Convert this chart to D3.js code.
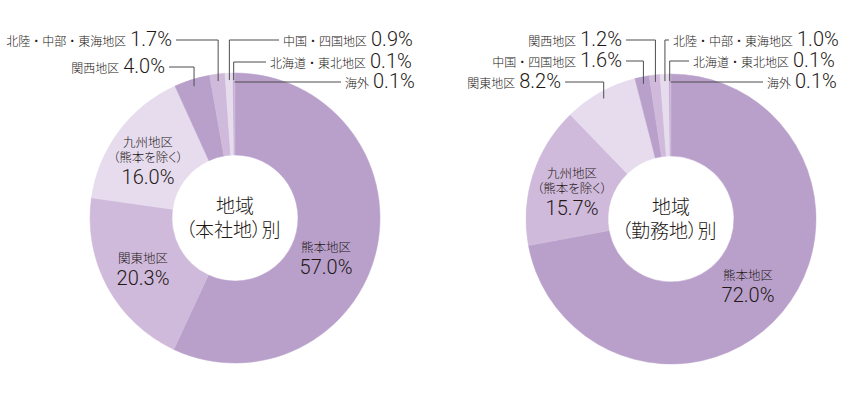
<!DOCTYPE html>
<html>
<head>
<meta charset="utf-8">
<script src="https://cdn.jsdelivr.net/npm/d3@7"></script>
<style>
  html, body { margin: 0; padding: 0; background: #fff; }
  #chart { width: 845px; height: 397px; }
  text { fill: #231815; }
  .jp { font-family: "Noto Sans CJK JP", sans-serif; font-weight: 300; }
  .palt { font-feature-settings: "palt"; }
  .num { font-family: Roboto, "Liberation Sans", sans-serif; font-weight: 300; }
</style>
</head>
<body>
<div id="chart"></div>
<script>
//Datos
const HQ_NAMES = ['熊本地区', '関東地区', '九州地区', '関西地区', '北陸・中部・東海地区', '中国・四国地区', '北海道・東北地区', '海外'];
const HQ_VALUES = [57.0, 20.3, 16.0, 4.0, 1.7, 0.9, 0.1, 0.1];

const WORK_NAMES = ['熊本地区', '九州地区', '関東地区', '中国・四国地区', '関西地区', '北陸・中部・東海地区', '北海道・東北地区', '海外'];
const WORK_VALUES = [72.0, 15.7, 8.2, 1.6, 1.2, 1.0, 0.1, 0.1];

const HQ_TITLE = ['地域', '（本社地）別'];
const WORK_TITLE = ['地域', '（勤務地）別'];

//Colores fijos
const COLOR_DARK = '#b9a0cb',
COLOR_MID = '#d0badb',
COLOR_LIGHT = '#e6dcee',
COLOR_LINE = '#4d4d4d';

//Layout de etiquetas (inside: dx/dy desde el centro; outside: fila y lado)
const HQ_LAYOUT = [
    {type: 'in', dx: 91, dy: 34},
    {type: 'in', dx: -92, dy: 45},
    {type: 'in', dx: -87, dy: -71, sub: '（熊本を除く）'},
    {type: 'out', side: 'left', y: 67, tx: 165},
    {type: 'out', side: 'left', y: 40, tx: 172},
    {type: 'out', side: 'right', y: 40, tx: 283},
    {type: 'out', side: 'right', y: 62, tx: 270},
    {type: 'out', side: 'right', y: 82, tx: 345}
];
const WORK_LAYOUT = [
    {type: 'in', dx: 77, dy: 61},
    {type: 'in', dx: -99, dy: -41, sub: '（熊本を除く）'},
    {type: 'out', side: 'left', y: 82, tx: 561},
    {type: 'out', side: 'left', y: 61, tx: 622},
    {type: 'out', side: 'left', y: 40, tx: 622},
    {type: 'out', side: 'right', y: 40, tx: 673},
    {type: 'out', side: 'right', y: 61, tx: 693},
    {type: 'out', side: 'right', y: 82, tx: 767}
];

let svg = d3.select('#chart')
    .append('svg')
    .attr('width', 845)
    .attr('height', 397);

let color = d3.scaleOrdinal()
    .domain(d3.range(8))
    .range([COLOR_DARK, COLOR_MID, COLOR_LIGHT]);

let outerR = 145, innerR = 63;

function drawDonut(cx, cy, names, values, title, layout) {
    let data = names.map(function(n, i) { return {name: n, value: values[i], i: i}; });

    let pie = d3.pie()
        .sort(null)
        .value(function(d) { return d.value; });

    let arc = d3.arc()
        .innerRadius(innerR)
        .outerRadius(outerR);

    let g = svg.append('g')
        .attr('transform', 'translate(' + cx + ',' + cy + ')');

    let arcs = pie(data);

    g.selectAll('path.slice')
        .data(arcs)
        .enter()
        .append('path')
        .attr('class', 'slice')
        .attr('d', arc)
        .attr('fill', function(d) { return color(d.data.i); })
        .attr('stroke', function(d) { return color(d.data.i); })
        .attr('stroke-width', 0.5);

    //Titulo central
    g.append('text')
        .attr('class', 'jp palt')
        .attr('text-anchor', 'middle')
        .attr('y', -5)
        .style('font-size', '19px')
        .text(title[0]);
    g.append('text')
        .attr('class', 'jp palt')
        .attr('text-anchor', 'middle')
        .attr('x', -2)
        .attr('y', 19)
        .style('font-size', '19px')
        .text(title[1]);

    //Etiquetas
    arcs.forEach(function(a, i) {
        let l = layout[i];
        let pct = d3.format('.1f')(a.data.value) + '%';
        if (l.type === 'in') {
            let t = g.append('text')
                .attr('text-anchor', 'middle')
                .attr('transform', 'translate(' + l.dx + ',' + l.dy + ')');
            let lines = [a.data.name];
            if (l.sub) lines.push(l.sub);
            lines.forEach(function(s, k) {
                t.append('tspan')
                    .attr('class', 'jp palt')
                    .attr('x', 0)
                    .attr('y', k * 15)
                    .style('font-size', '12.5px')
                    .text(s);
            });
            t.append('tspan')
                .attr('class', 'num')
                .attr('x', 0)
                .attr('y', (lines.length - 1) * 15 + 22)
                .style('font-size', '20px')
                .text(pct);
        } else {
            let ang = (a.startAngle + a.endAngle) / 2;
            let r = 138;
            let px = cx + Math.sin(ang) * r,
                py = cy - Math.cos(ang) * r;

            let t = svg.append('text')
                .attr('x', l.tx)
                .attr('y', l.y + 6)
                .attr('text-anchor', l.side === 'left' ? 'end' : 'start');
            t.append('tspan')
                .attr('class', 'jp')
                .style('font-size', '12px')
                .text(a.data.name);
            t.append('tspan')
                .attr('class', 'num')
                .attr('dx', 4)
                .style('font-size', '20px')
                .text(pct);

            let lx = l.side === 'left' ? l.tx + 4 : l.tx - 4;
            svg.append('polyline')
                .attr('points', [[lx, l.y], [px, l.y], [px, Math.max(py, l.y)]].map(function(p) { return p.join(','); }).join(' '))
                .attr('fill', 'none')
                .attr('stroke', COLOR_LINE)
                .attr('stroke-width', 1);
        }
    });
}

drawDonut(235, 218, HQ_NAMES, HQ_VALUES, HQ_TITLE, HQ_LAYOUT);
drawDonut(671, 219, WORK_NAMES, WORK_VALUES, WORK_TITLE, WORK_LAYOUT);
</script>
</body>
</html>
